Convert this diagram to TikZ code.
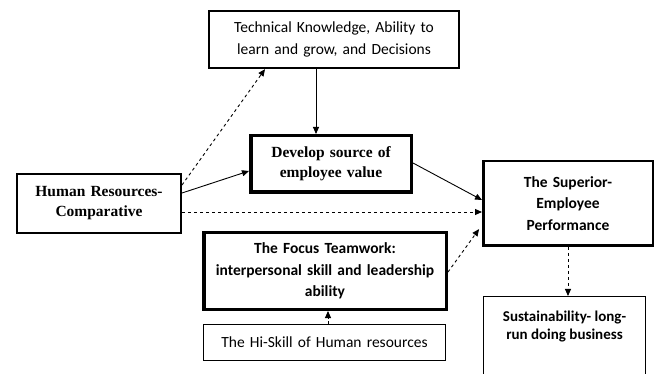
\documentclass[tikz,border=0pt]{standalone}
\usepackage{fontspec}
\setmainfont{Carlito}
\newfontfamily\tnr{Liberation Serif}
\usetikzlibrary{arrows.meta}

\begin{document}
\begin{tikzpicture}[x=1pt,y=1pt]
\tikzstyle{every node}+=[inner sep=0pt, align=center]
\tikzstyle{box}=[draw=black, font=\fontsize{15.5}{21.5}\selectfont]
\tikzstyle{tbox}=[box, font=\fontsize{15.5}{20}\selectfont\tnr\bfseries]
\tikzstyle{arr}=[-{Triangle[length=7pt,width=6pt]}, line width=0.9pt]
\tikzstyle{darr}=[arr, dash pattern=on 3pt off 3pt]
\useasboundingbox (0,0) rectangle (659,-374);
\node [box, line width=2.3pt, minimum width=250pt, minimum height=57pt, text width=240pt, font=\fontsize{15.5}{22}\selectfont] (tech) at (334,-39.5) {Technical Knowledge, Ability to\\learn and grow, and Decisions};
\node [tbox, line width=2pt, minimum width=164pt, minimum height=59pt, text width=156pt] (hr) at (99,-203.5) {Human Resources-\\Comparative};
\node [tbox, line width=3.5pt, minimum width=160.5pt, minimum height=56.5pt, text width=150pt] (dev) at (331,-164) {Develop source of\\employee value};
\node [box, line width=2.5pt, minimum width=169.5pt, minimum height=84.5pt, text width=160pt, font=\fontsize{15.5}{21.5}\selectfont\bfseries] (supr) at (568,-203.5) {The Superior-\\Employee\\Performance};
\node [box, line width=3.5pt, minimum width=242.5pt, minimum height=76.5pt, text width=236pt, font=\fontsize{15.5}{21.5}\selectfont\bfseries] (focus) at (325,-271) {The Focus Teamwork:\\interpersonal skill and leadership\\ability};
\node [box, line width=0.8pt, minimum width=242pt, minimum height=36pt, text width=236pt] (hi) at (324.5,-342.5) {The Hi-Skill of Human resources};
\node [box, line width=0.8pt, anchor=north, minimum width=162pt, font=\fontsize{15}{17.5}\selectfont\bfseries] (sust) at (564.5,-296) {\parbox[t][100pt][t]{158pt}{\vspace*{15pt}\centering Sustainability- long-\\run doing business}};
\draw [arr] ([xshift=-18pt]tech.south) -- ([xshift=-18pt]tech.south |- dev.north);
\draw [arr] ([yshift=10.5pt]hr.east) -- ([yshift=-7pt]dev.west);
\draw [darr] ([yshift=18.5pt]hr.east) -- ([xshift=-69pt]tech.south);
\draw [darr] ([yshift=-8.5pt]hr.east) -- ([yshift=-8.5pt]hr.east -| supr.west);
\draw [arr] ([yshift=1pt]dev.east) -- ([yshift=3.5pt]supr.west);
\draw [darr, shorten >=5pt] ([yshift=-1pt]focus.east) -- ([yshift=-21.5pt]supr.west);
\draw [darr] ([xshift=3.5pt]hi.north) -- ([xshift=3.5pt]hi.north |- focus.south);
\draw [darr] (supr.south) -- (supr.south |- sust.north);
\end{tikzpicture}
\end{document}
